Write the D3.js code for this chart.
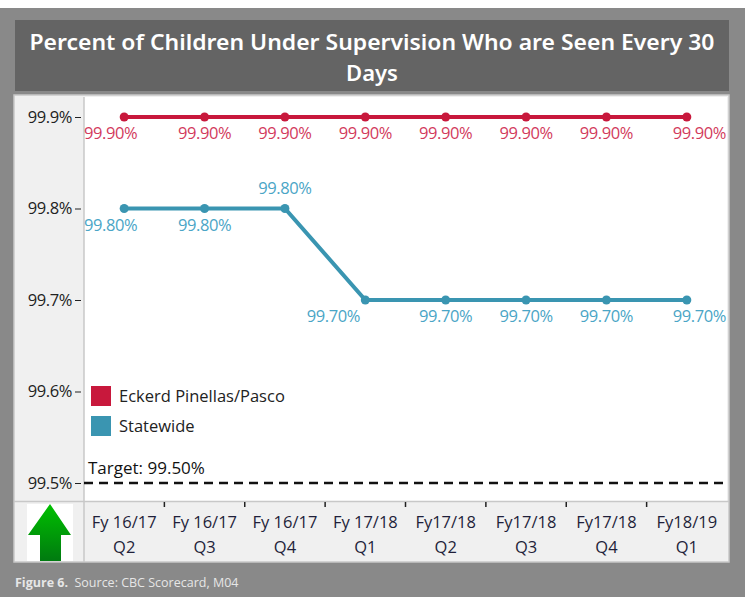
<!DOCTYPE html>
<html><head><meta charset="utf-8">
<script src="https://cdnjs.cloudflare.com/ajax/libs/d3/7.8.5/d3.min.js"></script>
<style>
html,body{margin:0;padding:0;background:#fff;}
svg{display:block;}
text{font-family:"Open Sans","Noto Sans",sans-serif;}
</style></head>
<body>
<script>
// ---- data ----
const fiscalYears = ["Fy 16/17","Fy 16/17","Fy 16/17","Fy 17/18","Fy17/18","Fy17/18","Fy17/18","Fy18/19"];
const quarters    = ["Q2","Q3","Q4","Q1","Q2","Q3","Q4","Q1"];
const categories  = fiscalYears.map((f,i)=>f+"|"+quarters[i]);
const eckerdValues    = [99.9,99.9,99.9,99.9,99.9,99.9,99.9,99.9];
const statewideValues = [99.8,99.8,99.8,99.7,99.7,99.7,99.7,99.7];
const seriesNames = ["Eckerd Pinellas/Pasco","Statewide"];
const yTicks = [99.5,99.6,99.7,99.8,99.9];
const targetValue = 99.5;
const titleLines = ["Percent of Children Under Supervision Who are Seen Every 30","Days"];

// label placement (style)
const eckerdLabelPos    = ["start","mid","mid","mid","mid","mid","mid","end"];
const statewideLabelPos = ["start","mid","above","left","mid","mid","mid","end"];

const W=745,H=597;
const svg=d3.select("body").append("svg").attr("width",W).attr("height",H);

// outer grey
svg.append("rect").attr("x",0).attr("y",8).attr("width",W).attr("height",H-8).attr("fill","#898989");
// title box
svg.append("rect").attr("x",15).attr("y",20).attr("width",714).attr("height",71).attr("fill","#646464");
svg.append("text").attr("x",372).attr("y",50).attr("text-anchor","middle").attr("fill","#fff")
  .attr("font-size",22).attr("font-weight",600).attr("textLength",685).attr("lengthAdjust","spacingAndGlyphs")
  .style("font-family","'Noto Sans',sans-serif").text(titleLines[0]);
svg.append("text").attr("x",372).attr("y",81).attr("text-anchor","middle").attr("fill","#fff")
  .attr("font-size",22).attr("font-weight",600).style("font-family","'Noto Sans',sans-serif").text(titleLines[1]);

// panels
const L=84,R=727,T=97,B=501;
svg.append("rect").attr("x",14).attr("y",95).attr("width",715).attr("height",467).attr("fill","#f0f0f0").attr("stroke","#c8c8c8").attr("stroke-width",1.5);
svg.append("rect").attr("x",L).attr("y",T).attr("width",R-L).attr("height",B-T).attr("fill","#fff");
svg.append("line").attr("x1",L).attr("x2",L).attr("y1",T).attr("y2",562).attr("stroke","#c8c8c8").attr("stroke-width",1.5);
svg.append("line").attr("x1",14).attr("x2",729).attr("y1",B+0.5).attr("y2",B+0.5).attr("stroke","#c8c8c8").attr("stroke-width",1.5);

// scales
const x=d3.scaleBand().domain(categories).range([L,R]).padding(0);
const y=d3.scaleLinear().domain([99.5,99.9]).range([483,117]);

// y axis
const yAxis=svg.append("g").attr("transform",`translate(${L-3},0)`)
  .call(d3.axisLeft(y).tickValues(yTicks).tickFormat(d=>d3.format(".1f")(d)+"%").tickSize(6).tickPadding(3));
yAxis.select(".domain").remove();
yAxis.selectAll("line").attr("stroke","#222");
yAxis.selectAll("text").attr("font-size",16.5).attr("fill","#222").attr("letter-spacing",-0.4).style("font-family","'Open Sans',sans-serif");

// x axis
const xAxis=svg.append("g").attr("transform",`translate(0,${B})`)
  .call(d3.axisBottom(x).tickSize(0).tickPadding(0));
xAxis.select(".domain").remove();
xAxis.selectAll("text").each(function(d){
  const parts=d.split("|");
  const t=d3.select(this).text(null).attr("fill","#1f1f3a").attr("font-size",16.5).attr("dy",null).attr("y",0);
  t.append("tspan").attr("x",0).attr("y",27).text(parts[0]);
  t.append("tspan").attr("x",0).attr("y",52).text(parts[1]);
});
svg.append("g").selectAll("line").data(categories.slice(1)).join("line")
  .attr("x1",d=>x(d)).attr("x2",d=>x(d)).attr("y1",B+1).attr("y2",B+6)
  .attr("stroke","#222").attr("stroke-width",1.5);

// green arrow
svg.append("rect").attr("x",27).attr("y",504).attr("width",46).attr("height",57).attr("fill","#fff");
const grad=svg.append("defs").append("linearGradient").attr("id","g").attr("x1",0).attr("x2",0).attr("y1",0).attr("y2",1);
grad.append("stop").attr("offset","0%").attr("stop-color","#00c000");
grad.append("stop").attr("offset","100%").attr("stop-color","#007a10");
svg.append("path").attr("d","M50,504 L71,535 L61,535 L61,561 L40,561 L40,535 L28,535 Z").attr("fill","url(#g)");

// target line
svg.append("line").attr("x1",L).attr("x2",R).attr("y1",y(targetValue)).attr("y2",y(targetValue))
  .attr("stroke","#111").attr("stroke-width",2.5).attr("stroke-dasharray","9,6");
svg.append("text").attr("x",88).attr("y",y(targetValue)-9).attr("font-size",17).attr("fill","#111")
  .text("Target: "+d3.format(".2f")(targetValue)+"%");

// series
const series=[
  {name:seriesNames[0],values:eckerdValues,color:"#c8183c",labelColor:"#d23a5c",pos:eckerdLabelPos},
  {name:seriesNames[1],values:statewideValues,color:"#3a95b1",labelColor:"#4aa5c6",pos:statewideLabelPos}
];
const cx=i=>x(categories[i])+x.bandwidth()/2;
const line=d3.line().x((d,i)=>cx(i)).y(d=>y(d));
series.forEach(s=>{
  svg.append("path").attr("d",line(s.values)).attr("fill","none").attr("stroke",s.color).attr("stroke-width",4);
  svg.append("g").selectAll("circle").data(s.values).join("circle")
    .attr("cx",(d,i)=>cx(i)).attr("cy",d=>y(d)).attr("r",4.5).attr("fill",s.color);
  svg.append("g").selectAll("text").data(s.values).join("text")
    .attr("font-size",16.5).attr("fill",s.labelColor).attr("letter-spacing",-0.4)
    .attr("x",(d,i)=>{const p=s.pos[i]; if(p==="start")return L; if(p==="end")return R-1; if(p==="left")return cx(i)-32; return cx(i);})
    .attr("y",(d,i)=>s.pos[i]==="above"? y(d)-15 : y(d)+22)
    .attr("text-anchor",(d,i)=>s.pos[i]==="start"?"start":s.pos[i]==="end"?"end":"middle")
    .text(d=>d3.format(".2f")(d)+"%");
});

// legend
const lg=svg.append("g");
series.forEach((s,i)=>{
  lg.append("rect").attr("x",91).attr("y",386+i*30).attr("width",20).attr("height",20).attr("fill",s.color);
  lg.append("text").attr("x",119).attr("y",402+i*30).attr("font-size",16.5).attr("fill","#222").text(s.name);
});

// footer
const ft=svg.append("text").attr("x",15).attr("y",587).attr("font-size",12.5).attr("fill","#e6e6e6");
ft.append("tspan").attr("font-weight",700).text("Figure 6.");
ft.append("tspan").text("  Source: CBC Scorecard, M04").attr("xml:space","preserve");
</script>
</body></html>
